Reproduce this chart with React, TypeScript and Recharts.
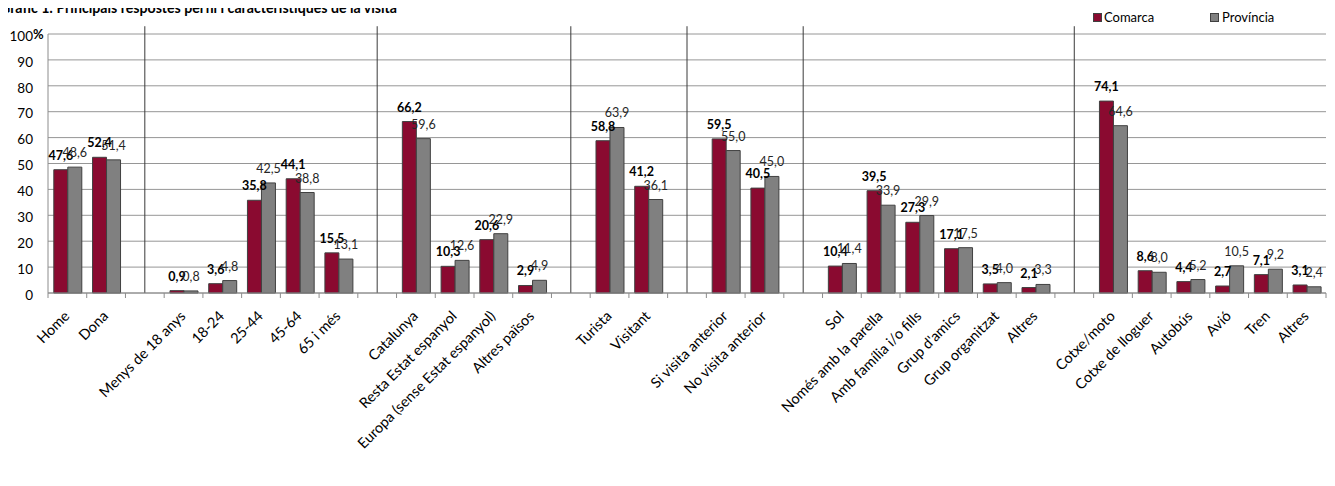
import { BarChart, Bar, XAxis, YAxis, CartesianGrid, LabelList, ReferenceLine } from "recharts"

const FONT = "Lato, 'Open Sans', sans-serif"

// "" = empty slot between groups (a separator line is drawn there)
const categories = [
  "Home", "Dona", "",
  "Menys de 18 anys", "18-24", "25-44", "45-64", "65 i més", "",
  "Catalunya", "Resta Estat espanyol", "Europa (sense Estat espanyol)", "Altres països", "",
  "Turista", "Visitant", "",
  "Si visita anterior", "No visita anterior", "",
  "Sol", "Només amb la parella", "Amb família i/o fills", "Grup d'amics", "Grup organitzat", "Altres", "",
  "Cotxe/moto", "Cotxe de lloguer", "Autobús", "Avió", "Tren", "Altres",
]

const comarca = [
  47.6, 52.4, null,
  0.9, 3.6, 35.8, 44.1, 15.5, null,
  66.2, 10.3, 20.6, 2.9, null,
  58.8, 41.2, null,
  59.5, 40.5, null,
  10.4, 39.5, 27.3, 17.1, 3.5, 2.1, null,
  74.1, 8.6, 4.4, 2.7, 7.1, 3.1,
]

const provincia = [
  48.6, 51.4, null,
  0.8, 4.8, 42.5, 38.8, 13.1, null,
  59.6, 12.6, 22.9, 4.9, null,
  63.9, 36.1, null,
  55.0, 45.0, null,
  11.4, 33.9, 29.9, 17.5, 4.0, 3.3, null,
  64.6, 8.0, 5.2, 10.5, 9.2, 2.4,
]

const yTicks = [0, 10, 20, 30, 40, 50, 60, 70, 80, 90, 100]

const data = categories.map((name, i) => ({
  id: `c${i}`,
  name,
  comarca: comarca[i],
  provincia: provincia[i],
}))

const separators = data.filter((d) => d.name === "").map((d) => d.id)

const fmt = (v: any) => (v == null ? "" : Number(v).toFixed(1).replace(".", ","))

function CategoryTick(props: any) {
  const { x, y, payload } = props
  const half = payload?.offset ?? 19.36
  const idx = data.findIndex((d) => d.id === payload?.value)
  const label = idx >= 0 ? data[idx].name : ""
  const ax = x + 3
  const ay = y + 24
  return (
    <g>
      <line x1={x - half} x2={x - half} y1={y} y2={y + 5} stroke="#8c8c8c" />
      {idx === data.length - 1 && (
        <line x1={x + half} x2={x + half} y1={y} y2={y + 5} stroke="#8c8c8c" />
      )}
      {label && (
        <text
          x={ax}
          y={ay}
          transform={`rotate(-45, ${ax}, ${ay})`}
          textAnchor="end"
          fontSize={14.5}
          fontFamily={FONT}
          fill="#000"
        >
          {label}
        </text>
      )}
    </g>
  )
}

export default function App() {
  return (
    <div style={{ position: "relative", width: 1335, height: 486, margin: "-8px 0 0 -8px", background: "#fff" }}>
      <BarChart
        width={1335}
        height={486}
        data={data}
        margin={{ top: 34, right: 9, bottom: 0, left: 0 }}
        barCategoryGap="15%"
        barGap={0}
      >
        <CartesianGrid vertical={false} stroke="#969696" />
        <XAxis
          dataKey="id"
          height={193}
          interval={0}
          tickSize={0}
          tickMargin={0}
          tickLine={false}
          axisLine={{ stroke: "#8c8c8c" }}
          tick={<CategoryTick />}
        />
        <YAxis
          width={48}
          domain={[0, 100]}
          ticks={yTicks}
          tickSize={0}
          tickMargin={15}
          tickLine={false}
          axisLine={{ stroke: "#8c8c8c" }}
          tick={{ fontSize: 13.5, fill: "#000", fontFamily: FONT, dy: 2 }}
        />
        {separators.map((id) => (
          <ReferenceLine
            key={id}
            segment={[{ x: id, y: 0 }, { x: id, y: 103 }]}
            ifOverflow="visible"
            stroke="#3a3a3a"
          />
        ))}
        <Bar dataKey="comarca" name="Comarca" fill="#8a0a30" stroke="#404040" strokeWidth={1} isAnimationActive={false}>
          <LabelList
            dataKey="comarca"
            position="top"
            offset={10}
            formatter={fmt}
            style={{ fontSize: 12.5, fontWeight: 700, fill: "#000", fontFamily: FONT }}
          />
        </Bar>
        <Bar dataKey="provincia" name="Província" fill="#808080" stroke="#404040" strokeWidth={1} isAnimationActive={false}>
          <LabelList
            dataKey="provincia"
            position="top"
            offset={10}
            formatter={fmt}
            style={{ fontSize: 12.5, fill: "#262626", fontFamily: FONT }}
          />
        </Bar>
      </BarChart>

      <svg width={1335} height={486} style={{ position: "absolute", top: 0, left: 0, pointerEvents: "none" }}>
        <text x={0} y={13} fontSize={16} fontWeight={700} fontFamily={FONT} fill="#000" textLength={397} lengthAdjust="spacingAndGlyphs">
          Gràfic 1: Principals respostes perfil i característiques de la visita
        </text>
        <text x={33} y={39} fontSize={13} fontWeight={700} fontFamily={FONT} fill="#000">%</text>
        <rect x={1093.5} y={13.5} width={8} height={8} fill="#8a0a30" stroke="#404040" />
        <text x={1104} y={21.5} fontSize={13} fontFamily={FONT} fill="#000">Comarca</text>
        <rect x={1210.5} y={13.5} width={8} height={8} fill="#808080" stroke="#404040" />
        <text x={1222} y={21.5} fontSize={13} fontFamily={FONT} fill="#000">Província</text>
        <line x1={1333.5} x2={1333.5} y1={0} y2={486} stroke="#000" strokeWidth={2} />
      </svg>
    </div>
  )
}
